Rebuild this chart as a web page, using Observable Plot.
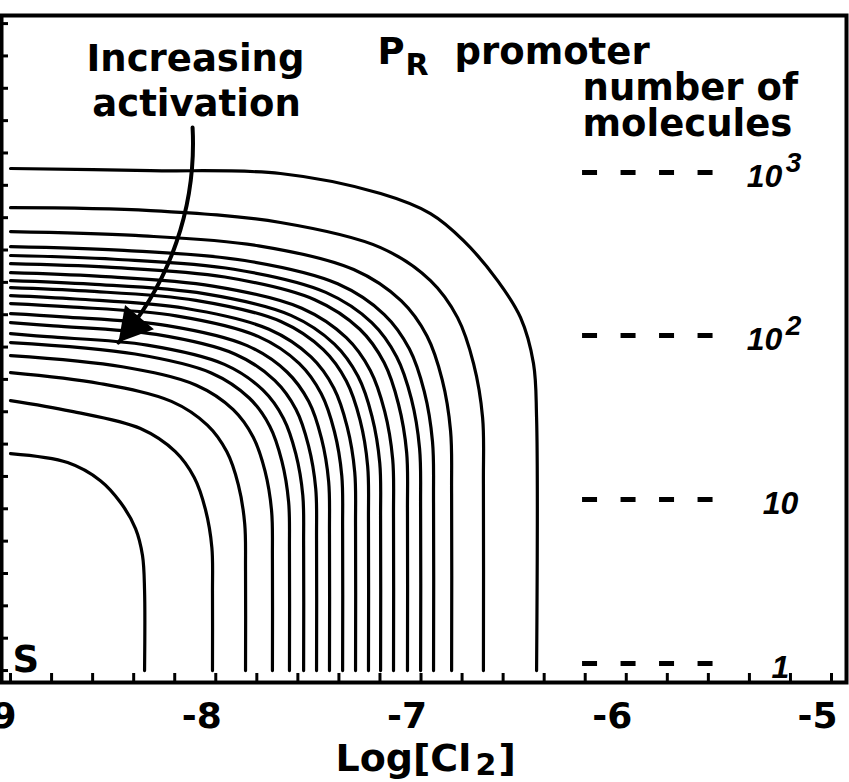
<!DOCTYPE html>
<html>
<head>
<meta charset="utf-8">
<script src="https://cdn.jsdelivr.net/npm/d3@7"></script>
<script src="https://cdn.jsdelivr.net/npm/@observablehq/plot@0.6"></script>
<style>
  html, body { margin: 0; padding: 0; background: #ffffff; }
  #chart svg { display: block; }
</style>
</head>
<body>
<div id="chart"></div>
<script>
// ---- Axis ticks (x = Log[CI2], y = log concentration, axis cropped) ----
const xTickValues = [-9, -8.8, -8.6, -8.4, -8.2, -8, -7.8, -7.6, -7.4, -7.2, -7, -6.8, -6.6, -6.4, -6.2, -6, -5.8, -5.6, -5.4, -5.2, -5];
const yTickValues = [-9, -8.8, -8.6, -8.4, -8.2, -8, -7.8, -7.6, -7.4, -7.2, -7, -6.8, -6.6, -6.4, -6.2, -6, -5.8, -5.6, -5.4, -5.2, -5];
const xLabelValues = [-9, -8, -7, -6, -5];

// ---- Contour lines (outermost = 1, innermost = 19), [log x, log y] ----
const contour01 = [[-9, -5.896], [-8.318, -5.909], [-7.685, -5.927], [-7.197, -6.051], [-6.954, -6.175], [-6.793, -6.342], [-6.627, -6.589], [-6.515, -6.818], [-6.452, -7.102], [-6.437, -7.436], [-6.437, -9]];
const contour02 = [[-9, -6.138], [-8.318, -6.156], [-7.685, -6.230], [-7.197, -6.385], [-6.954, -6.589], [-6.822, -6.818], [-6.744, -7.102], [-6.700, -7.436], [-6.696, -7.844], [-6.696, -9]];
const contour03 = [[-9, -6.286], [-8.392, -6.310], [-7.791, -6.374], [-7.328, -6.521], [-7.096, -6.715], [-6.971, -6.932], [-6.897, -7.202], [-6.856, -7.519], [-6.851, -7.907], [-6.851, -9]];
const contour04 = [[-9, -6.379], [-8.447, -6.402], [-7.859, -6.465], [-7.406, -6.609], [-7.179, -6.799], [-7.057, -7.011], [-6.984, -7.276], [-6.944, -7.586], [-6.939, -7.966], [-6.939, -9]];
const contour05 = [[-9, -6.434], [-8.494, -6.457], [-7.912, -6.519], [-7.464, -6.662], [-7.240, -6.849], [-7.119, -7.060], [-7.047, -7.321], [-7.007, -7.628], [-7.002, -8.004], [-7.002, -9]];
const contour06 = [[-9, -6.484], [-8.526, -6.506], [-7.956, -6.567], [-7.518, -6.707], [-7.298, -6.890], [-7.180, -7.096], [-7.110, -7.352], [-7.070, -7.652], [-7.066, -8.020], [-7.066, -9]];
const contour07 = [[-9, -6.540], [-8.578, -6.562], [-8.014, -6.623], [-7.581, -6.760], [-7.364, -6.942], [-7.247, -7.145], [-7.177, -7.398], [-7.138, -7.695], [-7.134, -8.059], [-7.134, -9]];
const contour08 = [[-9, -6.589], [-8.608, -6.611], [-8.057, -6.670], [-7.634, -6.804], [-7.422, -6.982], [-7.307, -7.181], [-7.239, -7.428], [-7.201, -7.718], [-7.197, -8.073], [-7.197, -9]];
const contour09 = [[-9, -6.632], [-8.635, -6.653], [-8.097, -6.711], [-7.683, -6.842], [-7.476, -7.016], [-7.364, -7.210], [-7.297, -7.452], [-7.260, -7.736], [-7.256, -8.082], [-7.256, -9]];
const contour10 = [[-9, -6.682], [-8.681, -6.703], [-8.150, -6.760], [-7.741, -6.890], [-7.536, -7.061], [-7.425, -7.253], [-7.360, -7.492], [-7.323, -7.773], [-7.319, -8.115], [-7.319, -9]];
const contour11 = [[-9, -6.731], [-8.712, -6.751], [-8.193, -6.807], [-7.794, -6.934], [-7.594, -7.101], [-7.486, -7.289], [-7.422, -7.522], [-7.386, -7.796], [-7.382, -8.130], [-7.382, -9]];
const contour12 = [[-9, -6.793], [-8.744, -6.813], [-8.237, -6.867], [-7.847, -6.991], [-7.653, -7.154], [-7.547, -7.337], [-7.485, -7.565], [-7.450, -7.832], [-7.446, -8.158], [-7.446, -9]];
const contour13 = [[-9, -6.849], [-8.790, -6.869], [-8.290, -6.922], [-7.905, -7.044], [-7.713, -7.206], [-7.609, -7.386], [-7.548, -7.611], [-7.513, -7.875], [-7.509, -8.197], [-7.509, -9]];
const contour14 = [[-9, -6.917], [-8.821, -6.936], [-8.334, -6.988], [-7.958, -7.107], [-7.771, -7.265], [-7.670, -7.441], [-7.610, -7.660], [-7.576, -7.917], [-7.572, -8.231], [-7.572, -9]];
const contour15 = [[-9, -6.972], [-8.393, -7.043], [-8.022, -7.160], [-7.837, -7.315], [-7.737, -7.489], [-7.678, -7.705], [-7.645, -7.959], [-7.641, -8.269], [-7.641, -9]];
const contour16 = [[-9, -7.053], [-8.456, -7.122], [-8.095, -7.236], [-7.915, -7.387], [-7.818, -7.556], [-7.760, -7.767], [-7.728, -8.014], [-7.724, -8.316], [-7.724, -9]];
const contour17 = [[-9, -7.158], [-8.567, -7.225], [-8.216, -7.336], [-8.041, -7.483], [-7.946, -7.648], [-7.890, -7.852], [-7.859, -8.093], [-7.855, -8.387], [-7.855, -9]];
const contour18 = [[-9, -7.331], [-8.708, -7.396], [-8.367, -7.504], [-8.197, -7.647], [-8.105, -7.807], [-8.050, -8.006], [-8.019, -8.240], [-8.016, -8.525], [-8.016, -9]];
const contour19 = [[-9, -7.659], [-8.722, -7.714], [-8.562, -7.826], [-8.464, -7.961], [-8.391, -8.122], [-8.357, -8.289], [-8.347, -8.505], [-8.347, -9]];

// ---- "number of molecules" key ----
const legendLevels = [-5.921, -6.929, -7.943, -8.957];
const legendBase = ["10", "10", "10", "1"];
const legendExp = ["3", "2", "", ""];

// ---- Annotation arrow ("Increasing activation"), start and tip ----
const arrowPath = [[-8.113, -5.643], [-8.474, -6.972]];

// ---- build tables ----
const contours = [contour01, contour02, contour03, contour04, contour05, contour06, contour07, contour08, contour09, contour10,
                  contour11, contour12, contour13, contour14, contour15, contour16, contour17, contour18, contour19];
const contourTable = contours.flatMap((pts, i) => pts.map(([x, y]) => ({id: i + 1, x, y})));
const legendRows = legendLevels.map((y, i) => ({y, base: legendBase[i], exp: legendExp[i]}));

const FONT = "DejaVu Sans";
const KEYFONT = "Liberation Sans";

const chart = Plot.plot({
  width: 849,
  height: 782,
  marginTop: 15,
  marginBottom: 100,
  marginLeft: 1,
  marginRight: 3,
  style: {background: "#ffffff", fontFamily: FONT, fontWeight: "bold", color: "#000"},
  x: {domain: [-9.044, -4.927], axis: null},
  y: {domain: [-9.074, -4.950], axis: null},
  marks: [
    // contour lines
    Plot.line(contourTable, {x: "x", y: "y", z: "id", curve: "catmull-rom", stroke: "#000", strokeWidth: 3.2}),
    // inward ticks
    Plot.tickX(xTickValues, {x: d => d, insetTop: 658, stroke: "#000", strokeWidth: 3}),
    Plot.tickY(yTickValues, {y: d => d, insetRight: 838, stroke: "#000", strokeWidth: 3}),
    // x tick labels
    Plot.axisX(xLabelValues, {tickSize: 0, tickPadding: 20, fontSize: 36, dx: -14, tickFormat: d => String(d), label: null}),
    // x axis title Log[CI2]
    Plot.text(["Log[Cl"], {x: () => -7.417, frameAnchor: "bottom", textAnchor: "start", lineAnchor: "bottom", dy: 88, fontSize: 38}),
    Plot.text(["2"], {x: () => -6.734, frameAnchor: "bottom", textAnchor: "start", lineAnchor: "bottom", dy: 92, fontSize: 30}),
    Plot.text(["]"], {x: () => -6.622, frameAnchor: "bottom", textAnchor: "start", lineAnchor: "bottom", dy: 88, fontSize: 38}),
    // annotation arrow (shaft + filled head)
    Plot.arrow([arrowPath], {x1: d => d[0][0], y1: d => d[0][1], x2: d => d[1][0], y2: d => d[1][1], bend: 22, headLength: 0, stroke: "#000", strokeWidth: 4}),
    Plot.dot([arrowPath], {x: d => d[1][0], y: d => d[1][1], symbol: "triangle", r: 14, rotate: 220, dx: 14, dy: -17, fill: "#000", stroke: "none"}),
    // annotation texts
    Plot.text(["Increasing"], {x: () => -8.099, y: () => -5.291, lineAnchor: "bottom", fontSize: 37}),
    Plot.text(["activation"], {x: () => -8.094, y: () => -5.569, lineAnchor: "bottom", fontSize: 37}),
    Plot.text(["P"], {x: () => -7.212, y: () => -5.247, textAnchor: "start", lineAnchor: "bottom", fontSize: 37}),
    Plot.text(["R"], {x: () => -7.076, y: () => -5.315, textAnchor: "start", lineAnchor: "bottom", fontSize: 30}),
    Plot.text(["promoter"], {x: () => -6.837, y: () => -5.247, textAnchor: "start", lineAnchor: "bottom", fontSize: 37}),
    Plot.text(["number of\nmolecules"], {x: () => -6.213, y: () => -5.692, textAnchor: "start", lineAnchor: "bottom", lineHeight: 0.95, fontSize: 37}),
    Plot.text(["S"], {x: () => -8.99, y: () => -9.012, textAnchor: "start", lineAnchor: "bottom", fontSize: 37}),
    // key: dashed segments and labels
    Plot.ruleY(legendRows, {y: "y", x1: () => -6.213, x2: () => -5.565, stroke: "#000", strokeWidth: 5, strokeDasharray: "15,23.5"}),
    Plot.text(legendRows.filter(d => d.exp), {x: () => -5.307, y: "y", text: "base", dx: -4, dy: 4, fontSize: 32, fontFamily: KEYFONT, fontStyle: "italic"}),
    Plot.text(legendRows.filter(d => !d.exp), {x: () => -5.307, y: "y", text: "base", dx: 12, dy: 4, fontSize: 32, fontFamily: KEYFONT, fontStyle: "italic"}),
    Plot.text(legendRows.filter(d => d.exp), {x: () => -5.307, y: "y", text: "exp", dx: 25, dy: -10, fontSize: 28, fontFamily: KEYFONT, fontStyle: "italic"}),
    // frame
    Plot.frame({stroke: "#000", strokeWidth: 4})
  ]
});
document.getElementById("chart").appendChild(chart);
</script>
</body>
</html>
